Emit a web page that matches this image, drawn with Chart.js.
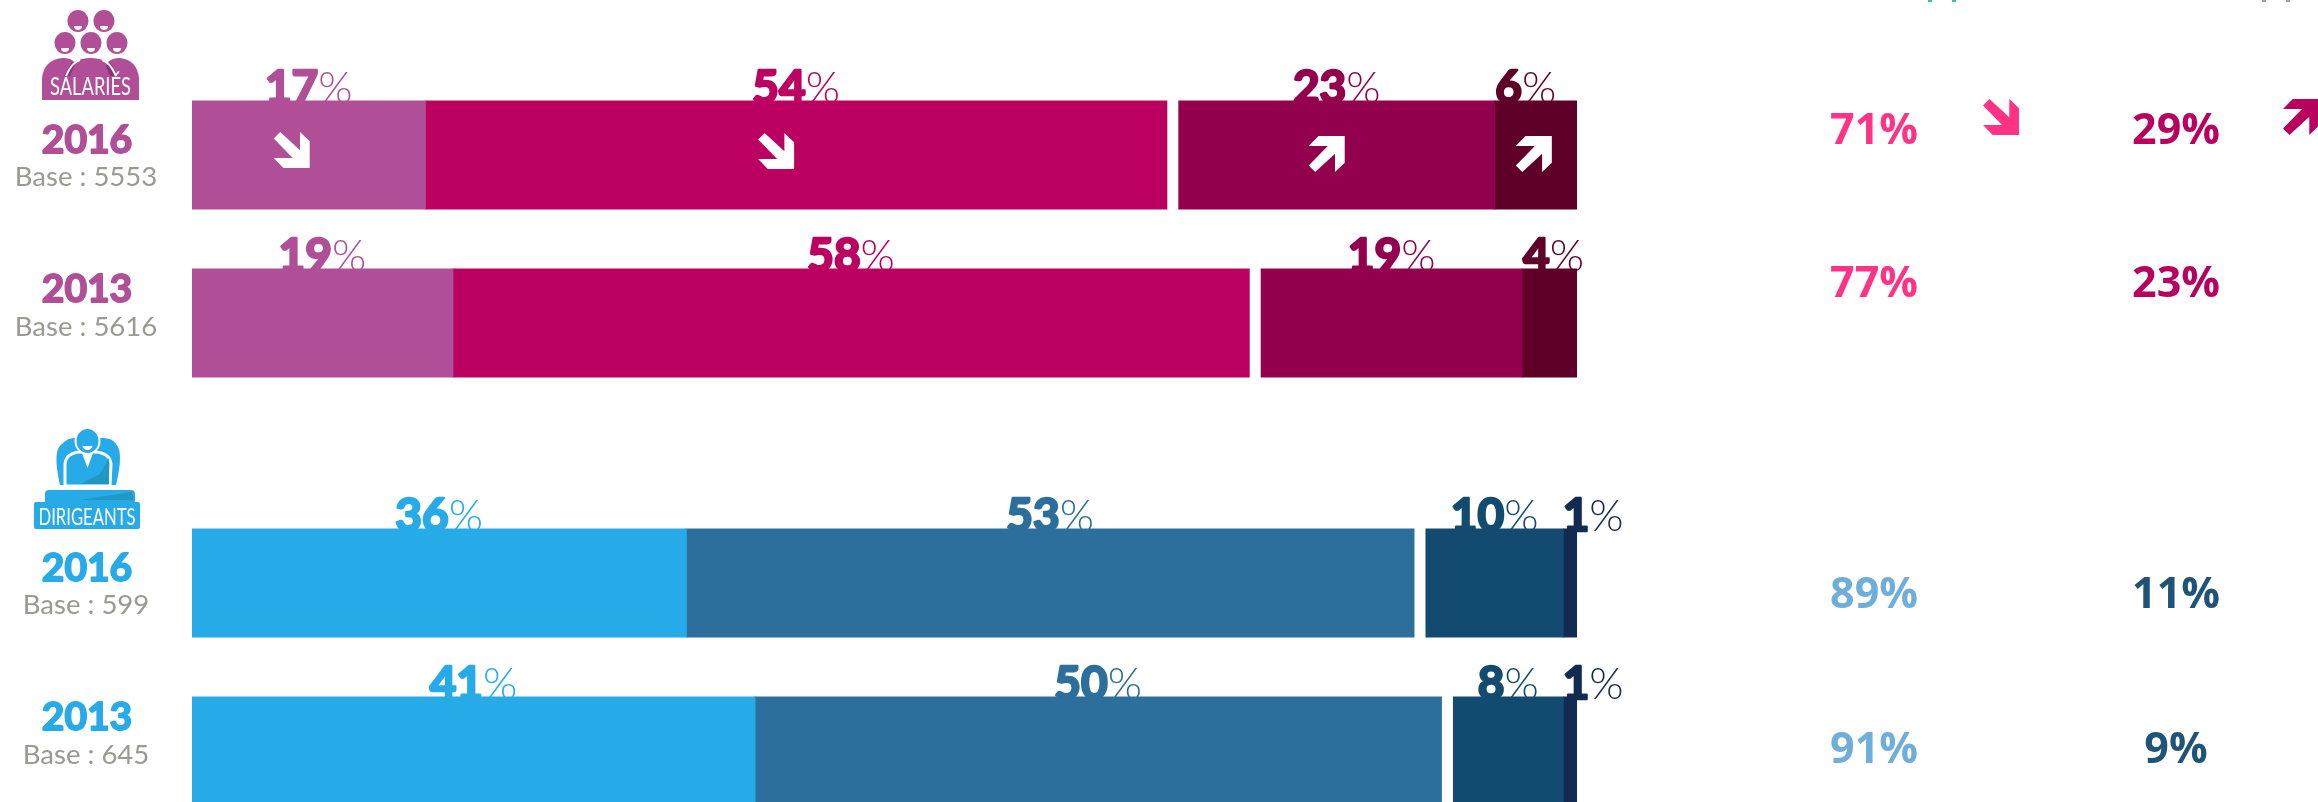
<!DOCTYPE html>
<html lang="fr">
<head>
    <meta charset="UTF-8">
    <title>Salariés / Dirigeants</title>
    <script src="https://cdn.jsdelivr.net/npm/chart.js"></script>
    <style>
        html, body { margin: 0; height: 802px; overflow: hidden; background: #fff; }
        canvas { position: absolute; left: 0; }
        #salaries { top: 0; }
        #dirigeants { top: 420px; }
    </style>
</head>
<body>
    <canvas id="salaries" width="2318" height="420"></canvas>
    <canvas id="dirigeants" width="2318" height="420"></canvas>

    <script>
        const years = ["2016", "2013"];

        const salariesBases = [5553, 5616];
        const salariesVeryGood = [17, 19];
        const salariesGood = [54, 58];
        const salariesBad = [23, 19];
        const salariesVeryBad = [6, 4];
        const salariesTotalGood = [71, 77];
        const salariesTotalBad = [29, 23];

        const dirigeantsBases = [599, 645];
        const dirigeantsVeryGood = [36, 41];
        const dirigeantsGood = [53, 50];
        const dirigeantsBad = [10, 8];
        const dirigeantsVeryBad = [1, 1];
        const dirigeantsTotalGood = [89, 91];
        const dirigeantsTotalBad = [11, 9];

        // white gap between the two halves of each bar, in % units
        const GAP = 0.874;

        // arrow pointing down-right, in a 0-1 box. up-right is the same thing flipped
        const ARROW = [[.18, 0], [0, .18], [.53, .72], [0, .72], [.27, 1], [1, 1], [1, .26], [.73, 0], [.73, .51]];

        function drawArrow(ctx, cx, cy, dir, color) {
            const w = 36, h = 36;
            ctx.fillStyle = color;
            ctx.beginPath();
            ARROW.forEach(([x, y], i) => {
                const px = cx - w / 2 + x * w;
                const py = dir === "down" ? cy - h / 2 + y * h : cy + h / 2 - y * h;
                if (i === 0) ctx.moveTo(px, py); else ctx.lineTo(px, py);
            });
            ctx.closePath();
            ctx.fill();
        }

        function ellipse(ctx, x, y, rx, ry, color) {
            ctx.fillStyle = color;
            ctx.beginPath();
            ctx.ellipse(x, y, rx, ry, 0, 0, Math.PI * 2);
            ctx.fill();
        }

        function polygon(ctx, pts, color) {
            ctx.fillStyle = color;
            ctx.beginPath();
            pts.forEach(([x, y], i) => { if (i === 0) ctx.moveTo(x, y); else ctx.lineTo(x, y); });
            ctx.closePath();
            ctx.fill();
        }

        function drawSalariesIcon(ctx) {
            const c = "#B04F97";
            [[78, 21], [104, 21], [65, 43], [91, 43], [117, 43]].forEach(([x, y]) => {
                ellipse(ctx, x, y, 10.5, 11, c);
                ctx.fillStyle = "#fff";
                ctx.beginPath();
                ctx.ellipse(x, y + 5, 4, 4, 0, 0, Math.PI);
                ctx.fill();
            });
            ctx.fillStyle = c;
            ctx.beginPath();
            ctx.moveTo(42, 100);
            ctx.lineTo(42, 78);
            ctx.quadraticCurveTo(44, 60, 62, 58);
            ctx.quadraticCurveTo(72, 58, 74, 62);
            ctx.quadraticCurveTo(90, 54, 108, 62);
            ctx.quadraticCurveTo(112, 58, 120, 58);
            ctx.quadraticCurveTo(137, 60, 139, 78);
            ctx.lineTo(139, 100);
            ctx.closePath();
            ctx.fill();
            polygon(ctx, [[64, 76], [72, 62], [76, 62], [70, 76]], "#8E2E84");
            polygon(ctx, [[118, 76], [110, 62], [106, 66], [110, 76]], "#8E2E84");
            ctx.strokeStyle = "#fff";
            ctx.lineWidth = 2;
            ctx.beginPath();
            ctx.moveTo(66, 76);
            ctx.quadraticCurveTo(72, 62, 80, 60);
            ctx.moveTo(116, 76);
            ctx.quadraticCurveTo(110, 62, 102, 60);
            ctx.stroke();
            ctx.fillStyle = "#fff";
            ctx.font = "25px Lato";
            ctx.textAlign = "center";
            ctx.textBaseline = "alphabetic";
            ctx.fillText("SALARIÉS", 90.5, 95, 81);
        }

        function drawDirigeantsIcon(ctx) {
            const c = "#27ABE8";
            // wings
            ctx.fillStyle = c;
            ctx.beginPath();
            ctx.moveTo(60, 485);
            ctx.quadraticCurveTo(52, 450, 62, 444);
            ctx.quadraticCurveTo(68, 437, 76, 438);
            ctx.lineTo(100, 438);
            ctx.quadraticCurveTo(112, 437, 116, 444);
            ctx.quadraticCurveTo(124, 452, 116, 485);
            ctx.closePath();
            ctx.fill();
            // torso with its white outline
            ctx.strokeStyle = "#fff";
            ctx.lineWidth = 3;
            ctx.beginPath();
            ctx.moveTo(65, 486);
            ctx.lineTo(65, 464);
            ctx.quadraticCurveTo(66, 453, 80, 452);
            ctx.lineTo(95, 452);
            ctx.quadraticCurveTo(110, 453, 111, 464);
            ctx.lineTo(110, 486);
            ctx.closePath();
            ctx.fill();
            ctx.stroke();
            polygon(ctx, [[80, 484], [100, 474], [109, 458], [109, 484]], "#2197C4");
            polygon(ctx, [[82, 453], [93, 453], [87.5, 468]], "#fff");
            // head, white ring keeps it off the wings
            ctx.beginPath();
            ctx.ellipse(87.5, 441, 12, 13, 0, 0, Math.PI * 2);
            ctx.fillStyle = c;
            ctx.fill();
            ctx.lineWidth = 2;
            ctx.stroke();
            ctx.fillStyle = "#fff";
            ctx.beginPath();
            ctx.ellipse(87.5, 446, 5, 4, 0, 0, Math.PI);
            ctx.fill();
            // desk
            ctx.fillStyle = c;
            ctx.beginPath();
            ctx.roundRect(45, 490, 90, 16, 4);
            ctx.roundRect(34, 502, 106, 27, 2);
            ctx.fill();
            polygon(ctx, [[80, 500], [132, 492], [134, 500]], "#2197C4");
            ctx.fillStyle = "#fff";
            ctx.font = "24px Lato";
            ctx.textAlign = "center";
            ctx.textBaseline = "alphabetic";
            ctx.fillText("DIRIGEANTS", 87, 525, 97);
        }

        // Lato has no real black weight here, so thicken bold with a stroke
        function heavyText(ctx, text, x, y, size, color, stroke) {
            ctx.font = "bold " + size + "px Lato";
            ctx.fillStyle = color;
            ctx.strokeStyle = color;
            ctx.lineWidth = stroke;
            ctx.lineJoin = "round";
            ctx.fillText(text, x, y);
            ctx.strokeText(text, x, y);
        }

        function drawPercent(ctx, value, cx, baseline, color) {
            const digits = String(value);
            ctx.font = "bold 46px Lato";
            const dw = ctx.measureText(digits).width;
            ctx.font = "300 44px Lato";
            const pw = ctx.measureText("%").width;
            const left = cx - (dw + pw) / 2;
            ctx.textAlign = "left";
            ctx.textBaseline = "alphabetic";
            heavyText(ctx, digits, left, baseline, 46, color, 2.5);
            ctx.font = "300 44px Lato";
            ctx.fillStyle = color;
            ctx.fillText("%", left + dw, baseline);
        }

        function makeChart(id, o) {
            const colors = o.colors;
            const datasets = [
                { data: o.series[0], backgroundColor: colors[0] },
                { data: o.series[1], backgroundColor: colors[1] },
                { data: years.map(() => GAP), backgroundColor: "transparent", inflateAmount: 0 },
                { data: o.series[2], backgroundColor: colors[2] },
                { data: o.series[3], backgroundColor: colors[3] }
            ];
            const segments = [0, 1, 3, 4];

            const labelsUnderBars = {
                id: "labelsUnderBars",
                beforeDatasetsDraw(chart) {
                    const ctx = chart.ctx;
                    ctx.save();
                    segments.forEach((ds, s) => {
                        chart.getDatasetMeta(ds).data.forEach((bar, row) => {
                            const p = bar.getProps(["x", "base", "y", "height"], true);
                            const cx = (p.x + p.base) / 2 + o.labelNudge[row][s];
                            drawPercent(ctx, o.series[s][row], cx, p.y - p.height / 2 + 2, colors[s]);
                        });
                    });
                    ctx.restore();
                }
            };

            const extras = {
                id: "extras",
                afterDraw(chart) {
                    const ctx = chart.ctx;
                    const y = chart.scales.y;
                    ctx.save();
                    ctx.translate(0, -o.top);
                    years.forEach((year, row) => {
                        const cy = y.getPixelForValue(row) + o.top;
                        ctx.textAlign = "center";
                        ctx.textBaseline = "middle";
                        heavyText(ctx, year, 87, cy + o.yearShift[row], 39, o.yearColor, 1.8);
                        ctx.fillStyle = "#9A9A90";
                        ctx.font = "27.5px Lato";
                        ctx.fillText("Base : " + o.bases[row], 86, cy + o.baseShift[row]);

                        ctx.font = "bold 43px 'Open Sans'";
                        ctx.fillStyle = o.totalColors[0];
                        ctx.fillText(o.totalGood[row] + "%", 1874, cy + o.totalShift[row]);
                        ctx.fillStyle = o.totalColors[1];
                        ctx.fillText(o.totalBad[row] + "%", 2176, cy + o.totalShift[row]);
                    });
                    ctx.restore();

                    // arrows inside the bars, only where there is a trend
                    (o.arrows || []).forEach(a => {
                        const bar = chart.getDatasetMeta(segments[a.seg]).data[a.row];
                        const p = bar.getProps(["x", "base", "y"], true);
                        drawArrow(ctx, (p.x + p.base) / 2 + a.dx, p.y + a.dy, a.dir, "#fff");
                    });

                    ctx.save();
                    ctx.translate(0, -o.top);
                    o.drawMore(ctx);
                    ctx.restore();
                }
            };

            return new Chart(document.getElementById(id), {
                type: "bar",
                data: { labels: years, datasets },
                options: {
                    indexAxis: "y",
                    responsive: false,
                    animation: false,
                    layout: { padding: { left: 192, right: 741, top: o.padTop, bottom: 420 - o.padTop - 336 } },
                    datasets: { bar: { barPercentage: 108 / 168, categoryPercentage: 1, inflateAmount: 0.5 } },
                    plugins: { legend: { display: false }, tooltip: { enabled: false } },
                    scales: {
                        x: { stacked: true, display: false, min: 0, max: 100 + GAP },
                        y: { stacked: true, display: false }
                    }
                },
                plugins: [labelsUnderBars, extras]
            });
        }

        makeChart("salaries", {
            top: 0,
            padTop: 71,
            series: [salariesVeryGood, salariesGood, salariesBad, salariesVeryBad],
            bases: salariesBases,
            totalGood: salariesTotalGood,
            totalBad: salariesTotalBad,
            colors: ["#B04F97", "#BC0061", "#93004E", "#5E0028"],
            totalColors: ["#FF3385", "#B8005F"],
            yearColor: "#B04F97",
            yearShift: [-15, -34],
            baseShift: [22, 4],
            totalShift: [-23, -38],
            labelNudge: [[0, 0, 0, -10], [0, 0, 0, 4]],
            arrows: [
                { row: 0, seg: 0, dir: "down", dx: -17, dy: -5 },
                { row: 0, seg: 1, dir: "down", dx: -20, dy: -4 },
                { row: 0, seg: 2, dir: "up", dx: -10, dy: -1 },
                { row: 0, seg: 3, dir: "up", dx: -2, dy: -1 }
            ],
            drawMore(ctx) {
                drawSalariesIcon(ctx);
                drawArrow(ctx, 2001, 117, "down", "#FF3385");
                drawArrow(ctx, 2301, 117, "up", "#B8005F");
                // bits of something cut off by the top edge of the picture
                ctx.fillStyle = "#3CC39A";
                ctx.fillRect(1928, 0, 4, 2);
                ctx.fillRect(1952, 0, 4, 2);
                ctx.fillStyle = "#A8A298";
                ctx.fillRect(2262, 0, 4, 2);
                ctx.fillRect(2286, 0, 4, 2);
            }
        });

        makeChart("dirigeants", {
            top: 420,
            padTop: 79,
            series: [dirigeantsVeryGood, dirigeantsGood, dirigeantsBad, dirigeantsVeryBad],
            bases: dirigeantsBases,
            totalGood: dirigeantsTotalGood,
            totalBad: dirigeantsTotalBad,
            colors: ["#27ABE8", "#2C6F9C", "#134B70", "#122B52"],
            totalColors: ["#6FAEDA", "#1F5478"],
            yearColor: "#27ABE8",
            yearShift: [-15, -34],
            baseShift: [22, 4],
            totalShift: [13, 0],
            labelNudge: [[0, 0, 0, 23], [0, 0, 0, 23]],
            drawMore: drawDirigeantsIcon
        });
    </script>
</body>
</html>
